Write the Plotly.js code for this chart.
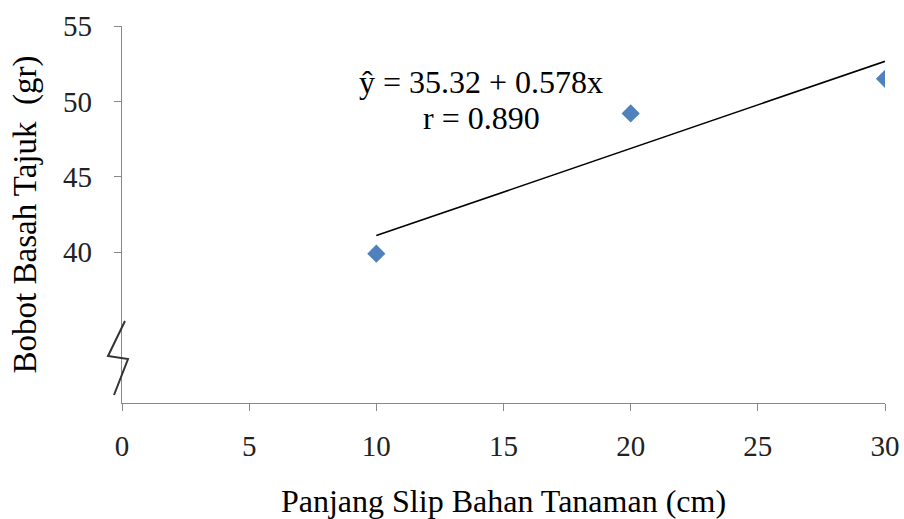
<!DOCTYPE html>
<html><head><meta charset="utf-8">
<script src="https://cdn.plot.ly/plotly-3.0.1.min.js"></script>
<style>html,body{margin:0;padding:0;background:#fff}#chart{width:904px;height:519px}</style>
</head><body><div id="chart"></div>
<script>
const panjang = [10, 20, 30];
const bobot = [39.9, 49.2, 51.5];
const intercept = 35.32, slope = 0.578;
const trendX = [10, 30];
const trendY = trendX.map(x => intercept + slope * x);
const xTicks = [0, 5, 10, 15, 20, 25, 30];
const yTicks = [40, 45, 50, 55];
const eqText = 'ŷ = 35.32 + 0.578x';
const rText = 'r = 0.890';

const font = 'Liberation Serif';
const traces = [
  {x: trendX, y: trendY, mode: 'lines', line: {color: '#000', width: 1.6}, hoverinfo: 'skip', showlegend: false},
  {x: panjang, y: bobot, mode: 'markers', marker: {symbol: 'diamond', size: 14, color: '#4F81BD'}, showlegend: false}
];
// axis-break zigzag (decoration), in paper units
const W = 763, H = 377, L = 122, T = 26;
const zz = [[125,321],[108,356],[128,359],[114,395]];
const zzPath = 'M ' + zz.map(p => ((p[0]-L)/W) + ' ' + (1-(p[1]-T)/H)).join(' L ');
const layout = {
  width: 904, height: 519,
  margin: {l: 122, r: 19, t: 26, b: 116},
  paper_bgcolor: '#fff', plot_bgcolor: '#fff',
  font: {family: font, color: '#000', size: 28},
  xaxis: {range: [0, 30], tickvals: xTicks, ticks: 'outside', ticklen: 7, tickcolor: '#888',
    showline: true, linecolor: '#888', linewidth: 1.3, showgrid: false, zeroline: false,
    tickfont: {family: font, size: 29, color: '#222'}, ticklabelstandoff: 10,
    title: {text: 'Panjang Slip Bahan Tanaman (cm)', font: {family: font, size: 32, color: '#000'}, standoff: 31}},
  yaxis: {range: [30, 55], tickvals: yTicks, ticks: 'outside', ticklen: 7, tickcolor: '#888',
    showline: true, linecolor: '#888', linewidth: 1.3, showgrid: false, zeroline: false,
    tickfont: {family: font, size: 29, color: '#222'}, ticklabelstandoff: 16,
    title: {text: 'Bobot Basah Tajuk\u00a0 (gr)', font: {family: font, size: 33, color: '#000'}, standoff: 16}},
  shapes: [{type: 'path', path: zzPath, xref: 'paper', yref: 'paper', line: {color: '#333', width: 2}, layer: 'above'}],
  annotations: [
    {xref: 'x', yref: 'y', x: 14.12, y: 51.27, text: eqText, showarrow: false, font: {family: font, size: 32, color: '#000'}},
    {xref: 'x', yref: 'y', x: 14.12, y: 48.87, text: rText, showarrow: false, font: {family: font, size: 32, color: '#000'}}
  ]
};
Plotly.newPlot('chart', traces, layout, {displayModeBar: false, staticPlot: true});
</script></body></html>
